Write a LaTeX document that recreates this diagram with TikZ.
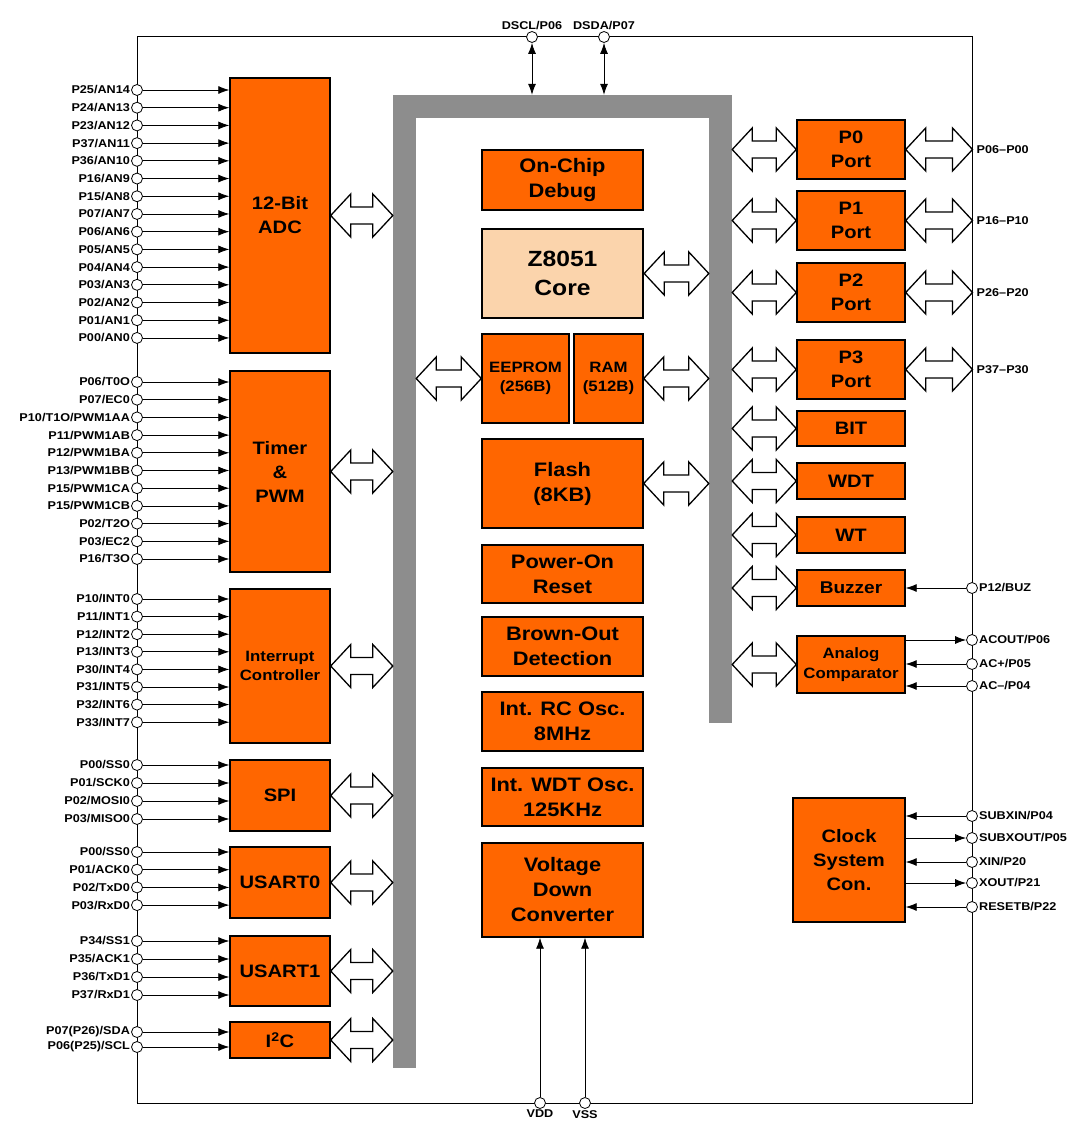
\documentclass[tikz,border=0pt]{standalone}
\usepackage{fontspec}
\setmainfont[FakeStretch=1.12]{Liberation Sans}
\usetikzlibrary{arrows.meta,calc,positioning}

\definecolor{blkorange}{RGB}{255,102,0}
\definecolor{corepeach}{RGB}{251,212,172}
\definecolor{busgray}{RGB}{141,141,141}

\begin{document}
\begin{tikzpicture}[x=1pt,y=-1pt,
  blk/.style={draw,line width=1.4pt,fill=blkorange,align=center,inner sep=0pt,
    font=\bfseries\fontsize{18}{24}\selectfont},
  midblk/.style={blk,minimum width=161,font=\bfseries\fontsize{19.5}{25}\selectfont},
  leftblk/.style={blk,minimum width=100},
  rightblk/.style={blk,minimum width=108},
  bus/.style={fill=busgray,inner sep=0pt},
  iopad/.style={circle,draw,fill=white,inner sep=0pt,minimum size=11,line width=0.8pt,label distance=5pt},
  pinlbl/.style={font=\bfseries\fontsize{11.3}{12}\selectfont,inner sep=1pt},
  sig/.style={-{Latex[length=11pt,width=8pt]},line width=0.8pt},
  sigin/.style={{Latex[length=11pt,width=8pt]}-,line width=0.8pt},
  sigboth/.style={{Latex[length=11pt,width=8pt]}-{Latex[length=11pt,width=8pt]},line width=0.8pt},
  hollow/.style={draw,fill=white,line width=1.3pt,line join=miter,
    to path={(\tikztostart) -- ($(\tikztostart)+(20,-21.5)$) -- ($(\tikztostart)+(20,-8.5)$)
      -- ($(\tikztotarget)+(-20,-8.5)$) -- ($(\tikztotarget)+(-20,-21.5)$) -- (\tikztotarget)
      -- ($(\tikztotarget)+(-20,21.5)$) -- ($(\tikztotarget)+(-20,8.5)$)
      -- ($(\tikztostart)+(20,8.5)$) -- ($(\tikztostart)+(20,21.5)$) -- cycle}}]

\useasboundingbox (0,0) rectangle (1080,1123);

% Chip outline
\node[draw,line width=1pt,inner sep=0pt,minimum width=835,minimum height=1066] (chip) at (554.5,570) {};

% Internal bus
\node[bus,minimum width=23,minimum height=973] (busL) at (404.5,581.5) {};
\node[bus,minimum width=339,minimum height=23] (busT) at (562.5,106.5) {};
\node[bus,minimum width=23,minimum height=628] (busR) at (720.5,409) {};

% Left peripherals
\node[leftblk,minimum height=275] (adc) at (280,215.5) {12-Bit\\ADC};
\node[leftblk,minimum height=201] (timer) at (280,471.5) {Timer\\\&\\PWM};
\node[leftblk,minimum height=154,font=\bfseries\fontsize{15}{19}\selectfont] (intc) at (280,666) {Interrupt\\Controller};
\node[leftblk,minimum height=71] (spi) at (280,795.5) {SPI};
\node[leftblk,minimum height=71] (usart0) at (280,882.5) {USART0};
\node[leftblk,minimum height=70] (usart1) at (280,971) {USART1};
\node[leftblk,minimum height=36] (iic) at (280,1040) {I\textsuperscript{2}C};

% Core and memories
\node[midblk,minimum height=60] (debug) at (562.5,180) {On-Chip\\Debug};
\node[midblk,minimum height=89,fill=corepeach,line width=2.4pt,font=\bfseries\fontsize{22}{29}\selectfont] (core) at (562.5,273.5) {Z8051\\Core};
\node[blk,minimum width=87,minimum height=89,font=\bfseries\fontsize{15}{19}\selectfont] (eeprom) at (525.5,378.5) {EEPROM\\(256B)};
\node[blk,minimum width=69,minimum height=89,font=\bfseries\fontsize{15}{19}\selectfont] (ram) at (608.5,378.5) {RAM\\(512B)};
\node[midblk,minimum height=89] (flash) at (562.5,483.5) {Flash\\(8KB)};
\node[midblk,minimum height=58] (por) at (562.5,574) {Power-On\\Reset};
\node[midblk,minimum height=59] (bod) at (562.5,646.5) {Brown-Out\\Detection};
\node[midblk,minimum height=59] (rcosc) at (562.5,721.5) {Int. RC Osc.\\8MHz};
\node[midblk,minimum height=58] (wdtosc) at (562.5,797) {Int. WDT Osc.\\125KHz};
\node[midblk,minimum height=94] (vdc) at (562.5,890) {Voltage\\Down\\Converter};

% Right peripherals
\node[rightblk,minimum height=59] (p0) at (851,149.5) {P0\\Port};
\node[rightblk,minimum height=59] (p1) at (851,220.5) {P1\\Port};
\node[rightblk,minimum height=59] (p2) at (851,292.5) {P2\\Port};
\node[rightblk,minimum height=59] (p3) at (851,369.5) {P3\\Port};
\node[rightblk,minimum height=35] (bit) at (851,428.5) {BIT};
\node[rightblk,minimum height=36] (wdt) at (851,481) {WDT};
\node[rightblk,minimum height=36] (wt) at (851,535) {WT};
\node[rightblk,minimum height=36,font=\bfseries\fontsize{17}{22}\selectfont] (buzzer) at (851,588) {Buzzer};
\node[rightblk,minimum height=57,font=\bfseries\fontsize{15}{20}\selectfont] (acmp) at (851,664.5) {Analog\\Comparator};
\node[blk,minimum width=112,minimum height=124] (clock) at (849,860) {Clock\\System\\Con.};

% Bus links
\foreach \b in {adc,timer,intc,spi,usart0,usart1,iic}
  \path[hollow] (\b.east) to (busL.west |- \b.east);
\path[hollow] (busL.east |- eeprom.west) to (eeprom.west);
\foreach \b in {core,ram,flash}
  \path[hollow] (\b.east) to (busR.west |- \b.east);
\foreach \b in {p0,p1,p2,p3,bit,wdt,wt,buzzer,acmp}
  \path[hollow] (busR.east |- \b.west) to (\b.west);
\foreach \b/\lbl in {p0/P06--P00,p1/P16--P10,p2/P26--P20,p3/P37--P30} {
  \coordinate (\b x) at (\b.east -| chip.east);
  \path[hollow] (\b.east) to (\b x);
  \node[pinlbl,anchor=west] (\b lbl) at ($(\b x)+(3,0)$) {\lbl};
}

% Left pins
\foreach \lbl [count=\i from 0] in {P25/AN14,P24/AN13,P23/AN12,P37/AN11,P36/AN10,P16/AN9,P15/AN8,P07/AN7,P06/AN6,P05/AN5,P04/AN4,P03/AN3,P02/AN2,P01/AN1,P00/AN0} {
  \node[iopad,label={[pinlbl]left:\lbl}] (adcpin\i) at (137,{90+\i*17.71}) {};
  \draw[sig] (adcpin\i) -- (adc.west |- adcpin\i);
}
\foreach \lbl [count=\i from 0] in {P06/T0O,P07/EC0,P10/T1O/PWM1AA,P11/PWM1AB,P12/PWM1BA,P13/PWM1BB,P15/PWM1CA,P15/PWM1CB,P02/T2O,P03/EC2,P16/T3O} {
  \node[iopad,label={[pinlbl]left:\lbl}] (tmrpin\i) at (137,{382+\i*17.7}) {};
  \draw[sig] (tmrpin\i) -- (timer.west |- tmrpin\i);
}
\foreach \lbl [count=\i from 0] in {P10/INT0,P11/INT1,P12/INT2,P13/INT3,P30/INT4,P31/INT5,P32/INT6,P33/INT7} {
  \node[iopad,label={[pinlbl]left:\lbl}] (intpin\i) at (137,{599+\i*17.6}) {};
  \draw[sig] (intpin\i) -- (intc.west |- intpin\i);
}
\foreach \lbl [count=\i from 0] in {P00/SS0,P01/SCK0,P02/MOSI0,P03/MISO0} {
  \node[iopad,label={[pinlbl]left:\lbl}] (spipin\i) at (137,{765+\i*18}) {};
  \draw[sig] (spipin\i) -- (spi.west |- spipin\i);
}
\foreach \lbl [count=\i from 0] in {P00/SS0,P01/ACK0,P02/TxD0,P03/RxD0} {
  \node[iopad,label={[pinlbl]left:\lbl}] (uapin\i) at (137,{852+\i*17.7}) {};
  \draw[sig] (uapin\i) -- (usart0.west |- uapin\i);
}
\foreach \lbl [count=\i from 0] in {P34/SS1,P35/ACK1,P36/TxD1,P37/RxD1} {
  \node[iopad,label={[pinlbl]left:\lbl}] (ubpin\i) at (137,{941+\i*18}) {};
  \draw[sig] (ubpin\i) -- (usart1.west |- ubpin\i);
}
\foreach \lbl [count=\i from 0] in {P07(P26)/SDA,P06(P25)/SCL} {
  \node[iopad,label={[pinlbl]left:\lbl}] (iicpin\i) at (137,{1032+\i*15}) {};
  \draw[sig] (iicpin\i) -- (iic.west |- iicpin\i);
}

% Right pins
\node[iopad,label={[pinlbl]right:P12/BUZ}] (buzpin) at (972,588) {};
\draw[sig] (buzpin) -- (buzzer.east |- buzpin);
\node[iopad,label={[pinlbl]right:ACOUT/P06}] (acpin0) at (972,640) {};
\node[iopad,label={[pinlbl]right:AC+/P05}] (acpin1) at (972,664) {};
\node[iopad,label={[pinlbl]right:AC--/P04}] (acpin2) at (972,686) {};
\draw[sig] (acmp.east |- acpin0) -- (acpin0);
\draw[sig] (acpin1) -- (acmp.east |- acpin1);
\draw[sig] (acpin2) -- (acmp.east |- acpin2);

\foreach \lbl/\y/\dir [count=\i from 0] in {{SUBXIN/P04}/816/sigin,{SUBXOUT/P05}/838/sig,{XIN/P20}/862/sigin,{XOUT/P21}/883/sig,{RESETB/P22}/907/sigin} {
  \node[iopad,label={[pinlbl]right:\lbl}] (clkpin\i) at (972,\y) {};
  \draw[\dir] (clock.east |- clkpin\i) -- (clkpin\i);
}

% Debug and supply pins
\node[iopad,label={[pinlbl]above:DSCL/P06}] (dsclpin) at (532,37) {};
\node[iopad,label={[pinlbl]above:DSDA/P07}] (dsdapin) at (604,37) {};
\draw[sigboth] (dsclpin) -- (dsclpin |- busT.north);
\draw[sigboth] (dsdapin) -- (dsdapin |- busT.north);
\node[iopad,label={[pinlbl]below:VDD}] (vddpin) at (540,1103) {};
\node[iopad,label={[pinlbl]below:VSS}] (vsspin) at (585,1103) {};
\draw[sig] (vddpin) -- (vddpin |- vdc.south);
\draw[sig] (vsspin) -- (vsspin |- vdc.south);

\end{tikzpicture}
\end{document}
